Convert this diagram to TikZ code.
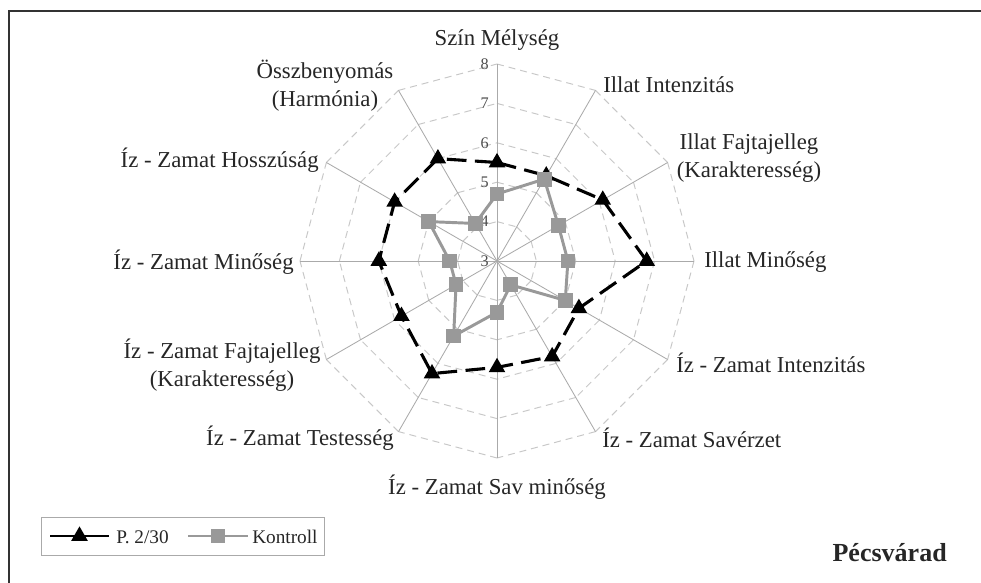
\documentclass[tikz,border=0pt]{standalone}
\usepackage{fontspec}
\setmainfont{Liberation Serif}
\usetikzlibrary{positioning, shapes.geometric, calc}

\definecolor{axisgray}{HTML}{AAAAAA}
\definecolor{gridgray}{HTML}{C8C8C8}
\definecolor{kgray}{HTML}{999999}
\definecolor{textgray}{HTML}{262626}

\begin{document}
\begin{tikzpicture}[
    x=0.025cm, y=-0.025cm, % one unit is one pixel of the original
    every node/.style={font=\fontsize{16.2}{20}\selectfont, text=textgray, inner sep=0pt},
    lbl/.style={align=center},
    tick/.style={font=\fontsize{11.5}{13}\selectfont, text=black!70, anchor=east},
    legtext/.style={font=\fontsize{13.7}{16}\selectfont, anchor=west},
    tri/.style={regular polygon, regular polygon sides=3, fill=black, minimum size=0.48cm},
    sq/.style={rectangle, fill=kgray, minimum size=0.37cm},
    gridline/.style={gridgray, line width=0.7pt, dash pattern=on 5pt off 3.5pt},
    axisline/.style={axisgray, line width=0.6pt},
    pline/.style={black, line width=2.2pt, dash pattern=on 14pt off 6pt},
    kline/.style={kgray, line width=2.1pt}
]
    \useasboundingbox (0,0) rectangle (981,583);

    % frame
    \draw[line width=1.4pt, black!80] (9,583) -- (9,11) -- (981,11);

    % centre and axis ends (value 3 in the middle, 8 at the rim)
    \coordinate (o) at (497,261);
    \foreach \i in {0,...,11}
        \coordinate (ax\i) at ($(o)+(\i*30-90:197)$);

    % grid
    \foreach \v in {4,...,8}
        \foreach \a in {0,30,...,330}
            \draw[gridline] ($(o)+(\a-90:{(\v-3)*39.4})$) -- ($(o)+(\a-60:{(\v-3)*39.4})$);
    \foreach \i in {0,...,11}
        \draw[axisline] (o) -- (ax\i);

    % scale numbers
    \foreach \v in {3,...,8}
        \node[tick] (t\v) at ($(o)+(-8,{-(\v-3)*39.4})$) {\v};

    % axis labels
    \node (l0) at (497,40) {Szín Mélység};
    \node[anchor=west] (l1) at (603,85) {Illat Intenzitás};
    \node[lbl] (l2) at (749,158) {Illat Fajtajelleg\\(Karakteresség)};
    \node[anchor=west] (l3) at (704,262) {Illat Minőség};
    \node[anchor=west] (l4) at (676,363) {Íz - Zamat Intenzitás};
    \node[anchor=west] (l5) at (602,438) {Íz - Zamat Savérzet};
    \node (l6) at (497,487) {Íz - Zamat Sav minőség};
    \node[anchor=east] (l7) at (394,438) {Íz - Zamat Testesség};
    \node[lbl] (l8) at (222,365) {Íz - Zamat Fajtajelleg\\(Karakteresség)};
    \node[anchor=east] (l9) at (294,262) {Íz - Zamat Minőség};
    \node[anchor=east] (l10) at (319,160) {Íz - Zamat Hosszúság};
    \node[lbl] (l11) at (325,86) {Összbenyomás\\(Harmónia)};

    % P. 2/30
    \foreach \v [count=\i from 0] in {5.5,5.5,6.1,6.8,5.4,5.8,5.7,6.3,5.8,6.0,6.0,6.0}
        \coordinate (p\i) at ($(o)+(\i*30-90:{(\v-3)*39.4})$);
    \draw[pline] (p0) \foreach \i in {1,...,11}{ -- (p\i)} -- cycle;
    \foreach \i in {0,...,11}
        \node[tri] (pm\i) at (p\i) {};

    % Kontroll
    \foreach \v [count=\i from 0] in {4.7,5.4,4.8,4.8,5.0,3.7,4.3,5.2,4.2,4.2,5.0,4.1}
        \coordinate (k\i) at ($(o)+(\i*30-90:{(\v-3)*39.4})$);
    \draw[kline] (k0) \foreach \i in {1,...,11}{ -- (k\i)} -- cycle;
    \foreach \i in {0,...,11}
        \node[sq] (km\i) at (k\i) {};

    % legend
    \node[draw=axisgray, line width=0.6pt, minimum width=7.075cm, minimum height=0.95cm] (leg) at (182.5,536) {};
    \coordinate (lp1) at (50,536);
    \coordinate (lp2) at (109,536);
    \draw[black, line width=2.1pt] (lp1) -- (lp2);
    \node[tri] (lpm) at ($(lp1)!0.5!(lp2)$) {};
    \node[legtext] (lpt) at (116,537) {P. 2/30};
    \coordinate (lk1) at (188,536);
    \coordinate (lk2) at (248,536);
    \draw[kline] (lk1) -- (lk2);
    \node[sq] (lkm) at ($(lk1)!0.5!(lk2)$) {};
    \node[legtext] (lkt) at (252,537) {Kontroll};

    \node[font=\bfseries\fontsize{18.5}{22}\selectfont, anchor=east] (place) at (947,553) {Pécsvárad};
\end{tikzpicture}
\end{document}
